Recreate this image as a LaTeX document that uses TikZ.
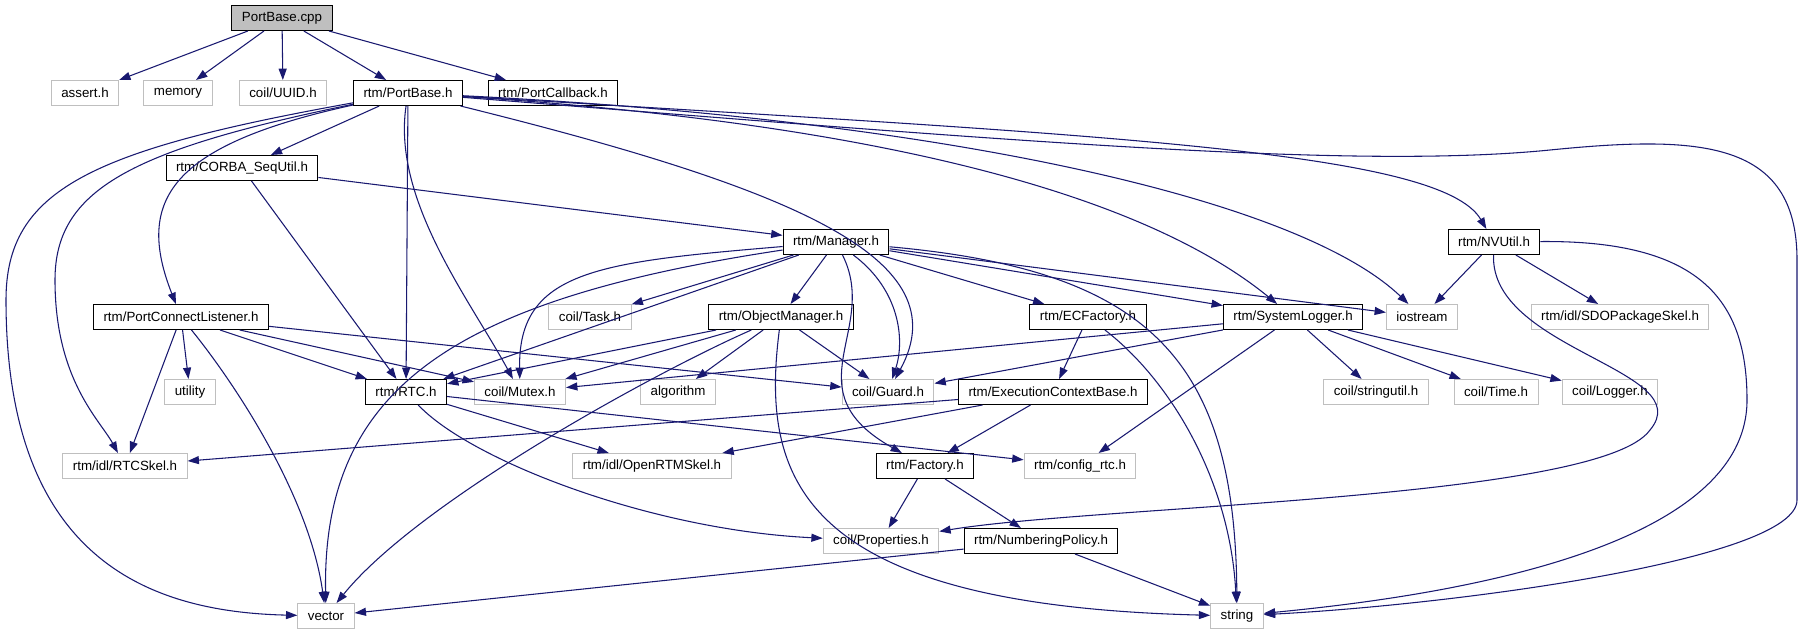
\documentclass[tikz,border=0pt]{standalone}
\usepackage{fontspec}
\setmainfont{Liberation Sans}
\usetikzlibrary{arrows.meta}
\definecolor{edgeblue}{HTML}{191970}
\definecolor{boxgray}{HTML}{BFBFBF}
\tikzset{
  inc/.style={rectangle,font=\fontsize{10}{12}\selectfont,minimum height=18.75pt,
    inner xsep=7.5pt,inner ysep=0pt,line width=0.75pt},
  hdr/.style={inc,draw=black},
  sys/.style={inc,draw=boxgray},
  dep/.style={->,draw=edgeblue,line width=0.8pt}
}
\begin{document}
\begin{tikzpicture}[x=0.75pt,y=-0.75pt,>={Triangle[length=8.5pt,width=6pt]}]
\useasboundingbox (0,0) rectangle (1808,635);
% the file and what it includes
\node[hdr,fill=boxgray] (cpp) at (282,18) {PortBase.cpp};
\node[sys] (assert) at (85,93) {assert.h};
\node[sys] (memory) at (178,93) {memory};
\node[sys] (uuid) at (283,93) {coil/UUID.h};
\node[hdr] (portbase) at (408,93) {rtm/PortBase.h};
\node[hdr] (callback) at (553,93) {rtm/PortCallback.h};
\node[hdr] (sequtil) at (242,168) {rtm/CORBA\_SeqUtil.h};
\node[hdr] (manager) at (836,242) {rtm/Manager.h};
\node[hdr] (nvutil) at (1494,242) {rtm/NVUtil.h};
\node[hdr] (listener) at (181,317) {rtm/PortConnectListener.h};
\node[sys] (task) at (590,317) {coil/Task.h};
\node[hdr] (objmgr) at (781,317) {rtm/ObjectManager.h};
\node[hdr] (ecfactory) at (1088,317) {rtm/ECFactory.h};
\node[hdr] (syslog) at (1293,317) {rtm/SystemLogger.h};
\node[sys] (iostream) at (1422,317) {iostream};
\node[sys] (sdoskel) at (1620,317) {rtm/idl/SDOPackageSkel.h};
\node[sys] (utility) at (190,392) {utility};
\node[hdr] (rtc) at (406,392) {rtm/RTC.h};
\node[sys] (mutex) at (520,392) {coil/Mutex.h};
\node[sys] (algorithm) at (678,392) {algorithm};
\node[sys] (guard) at (888,392) {coil/Guard.h};
\node[hdr] (ecbase) at (1053,392) {rtm/ExecutionContextBase.h};
\node[sys] (strutil) at (1376,392) {coil/stringutil.h};
\node[sys] (time) at (1496,392) {coil/Time.h};
\node[sys] (logger) at (1610,392) {coil/Logger.h};
\node[sys] (rtcskel) at (125,466) {rtm/idl/RTCSkel.h};
\node[sys] (openrtm) at (652,466) {rtm/idl/OpenRTMSkel.h};
\node[hdr] (factory) at (925,466) {rtm/Factory.h};
\node[sys] (configrtc) at (1080,466) {rtm/config\_rtc.h};
\node[sys] (props) at (881,541) {coil/Properties.h};
\node[hdr] (numpolicy) at (1041,541) {rtm/NumberingPolicy.h};
\node[sys] (vector) at (326,616) {vector};
\node[sys] (string) at (1237,616) {string};
% straight includes
\foreach \a/\b in {cpp/assert,cpp/memory,cpp/uuid,cpp/portbase,cpp/callback,
  portbase/sequtil,portbase/rtc,sequtil/manager,sequtil/rtc,
  manager/task,manager/objmgr,manager/ecfactory,manager/syslog,manager/iostream,manager/rtc,
  objmgr/rtc,objmgr/mutex,objmgr/algorithm,objmgr/guard,
  listener/utility,listener/rtc,listener/mutex,listener/guard,listener/rtcskel,
  rtc/openrtm,rtc/configrtc,ecfactory/ecbase,ecbase/rtcskel,ecbase/openrtm,ecbase/factory,
  syslog/mutex,syslog/guard,syslog/strutil,syslog/time,syslog/logger,syslog/configrtc,
  nvutil/iostream,nvutil/sdoskel,factory/props,factory/numpolicy,
  numpolicy/vector,numpolicy/string}
  \draw[dep] (\a) -- (\b);
% curved ones
\draw[dep] (portbase) .. controls (90,150) and (6,190) .. (6,300) .. controls (6,560) and (150,612) .. (vector);
\draw[dep] (portbase) .. controls (130,150) and (55,190) .. (55,280) .. controls (55,380) and (100,420) .. (rtcskel);
\draw[dep] (portbase) .. controls (170,145) and (135,200) .. (listener);
\draw[dep] (portbase) .. controls (392,200) and (470,300) .. (mutex);
\draw[dep] (portbase) .. controls (800,190) and (960,260) .. (guard);
\draw[dep] (portbase) .. controls (900,125) and (1150,200) .. (syslog);
\draw[dep] (portbase) .. controls (950,120) and (1300,200) .. (iostream);
\draw[dep] (portbase) .. controls (1100,135) and (1440,150) .. (nvutil);
\draw[dep] (portbase) .. controls (1000,140) and (1350,170) .. (1550,150)
  .. controls (1700,135) and (1797,140) .. (1797,260) -- (1797,500)
  .. controls (1797,560) and (1450,605) .. (string);
\draw[dep] (manager) .. controls (600,262) and (518,270) .. (mutex);
\draw[dep] (manager) .. controls (450,300) and (322,390) .. (vector);
\draw[dep] (manager) .. controls (900,290) and (905,340) .. (guard);
\draw[dep] (manager) .. controls (880,330) and (790,390) .. (factory);
\draw[dep] (manager) .. controls (1150,270) and (1235,360) .. (string);
\draw[dep] (objmgr) .. controls (660,370) and (420,500) .. (vector);
\draw[dep] (objmgr) .. controls (760,480) and (800,605) .. (string);
\draw[dep] (listener) .. controls (240,390) and (310,500) .. (vector);
\draw[dep] (rtc) .. controls (470,460) and (650,530) .. (props);
\draw[dep] (ecfactory) .. controls (1170,380) and (1230,480) .. (string);
\draw[dep] (nvutil) .. controls (1700,240) and (1747,300) .. (1747,400)
  .. controls (1747,560) and (1400,600) .. (string);
\draw[dep] (nvutil) .. controls (1490,350) and (1700,370) .. (1650,430)
  .. controls (1600,500) and (1100,505) .. (props);
\end{tikzpicture}
\end{document}
